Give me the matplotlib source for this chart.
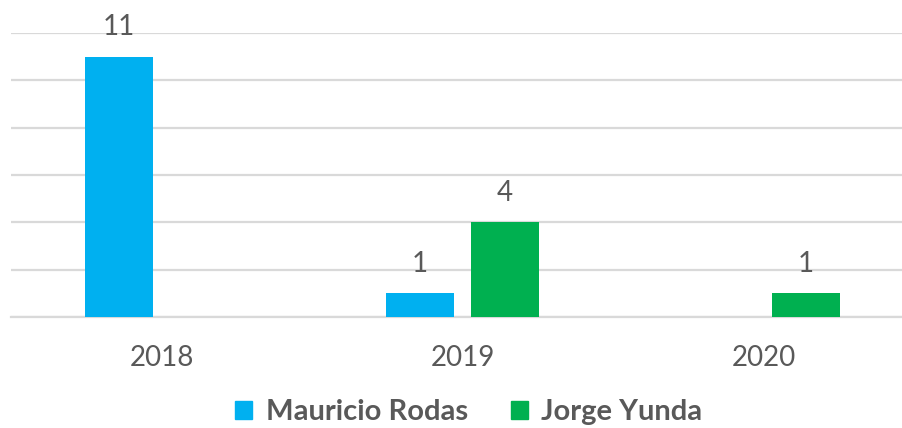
import numpy as np
import matplotlib
matplotlib.use("Agg")
import matplotlib.pyplot as plt
from matplotlib.patches import Patch

years = ["2018", "2019", "2020"]
mauricio = [11, 1, 0]
jorge = [0, 4, 1]
series_names = ["Mauricio Rodas", "Jorge Yunda"]
colors = ["#00B0F0", "#00B050"]
text_color = "#595959"
grid_color = "#D9D9D9"

fig = plt.figure(figsize=(9.02, 4.28), dpi=100)
ax = fig.add_axes([11 / 902, 1 - 317 / 428, 903 / 902, 284 / 428])

x = np.arange(len(years))
width = 0.223
offset = 0.141
for vals, off, col in [(mauricio, -offset, colors[0]), (jorge, offset, colors[1])]:
    bars = ax.bar(x + off, vals, width, color=col, zorder=3)
    for b, v in zip(bars, vals):
        if v:
            ax.annotate(str(v), (b.get_x() + b.get_width() / 2, v),
                        xytext=(0, 12), textcoords="offset points",
                        ha="center", va="bottom", fontsize=20,
                        family="Lato", color=text_color)

ax.set_xlim(-0.5, 2.5)
ax.set_ylim(0, 12)
ax.set_yticks(range(0, 13, 2))
ax.yaxis.grid(True, color=grid_color, linewidth=1.6, zorder=0)
ax.tick_params(axis="y", left=False, labelleft=False)
ax.tick_params(axis="x", bottom=False, pad=17)
ax.set_xticks(x)
ax.set_xticklabels(years, fontsize=20, family="Lato", color=text_color)
for s in ["top", "right", "left"]:
    ax.spines[s].set_visible(False)
ax.spines["bottom"].set_color(grid_color)
ax.spines["bottom"].set_linewidth(1.6)

handles = [Patch(color=c, label=n) for c, n in zip(colors, series_names)]
fig.legend(handles=handles, loc="center", bbox_to_anchor=(0.52, 1 - 412 / 428),
           ncol=2, frameon=False, handlelength=0.58, handleheight=0.58,
           handletextpad=0.45, columnspacing=1.5,
           prop={"family": "Lato", "weight": "bold", "size": 21},
           labelcolor=text_color)

fig.savefig("out.png", dpi=100)
